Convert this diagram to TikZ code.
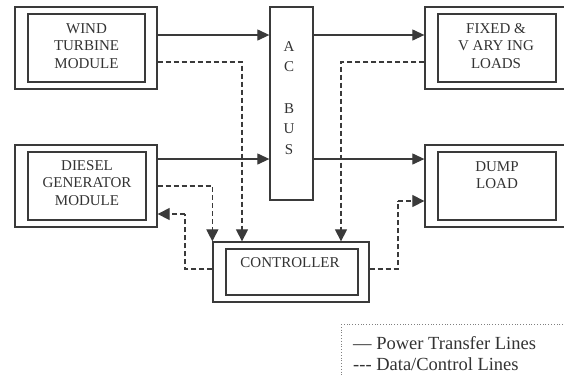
\documentclass[tikz,border=0pt]{standalone}
\usepackage{fontspec}
\setmainfont{Liberation Serif}
\usetikzlibrary{arrows.meta}
\definecolor{ln}{HTML}{3A3A3A}
\definecolor{tx}{HTML}{333333}
\begin{document}
\begin{tikzpicture}[x=1pt,y=-1pt,
  outer/.style={draw=ln,line width=1.3pt,inner sep=0pt,fill=white},
  innerbox/.style={draw=ln,line width=1.3pt,inner sep=0pt},
  lbl/.style={text=tx,font=\fontsize{15}{17.5}\selectfont,align=center,inner sep=0pt},
  pow/.style={draw=ln,line width=1.2pt,-{Triangle[length=12pt,width=11pt]}},
  dat/.style={draw=ln,line width=1.2pt,dash pattern=on 5pt off 3pt,-{Triangle[length=12pt,width=12pt]}},
  dat0/.style={draw=ln,line width=1.2pt,dash pattern=on 5pt off 3pt}]
\useasboundingbox (0,0) rectangle (564,376);
\clip (0,0) rectangle (564,376);
\fill[white] (0,0) rectangle (564,376);
% wind turbine
\node[outer,minimum width=142pt,minimum height=82pt] (wind) at (86,48) {};
\node[innerbox,minimum width=117pt,minimum height=68pt] (windin) at (86.5,48) {};
\node[lbl] (windt) at (86.5,46) {WIND\\TURBINE\\MODULE};
% diesel
\node[outer,minimum width=142pt,minimum height=82pt] (dsl) at (86,186) {};
\node[innerbox,minimum width=118pt,minimum height=68pt] (dslin) at (87,186) {};
\node[lbl] (dslt) at (87,183) {DIESEL\\GENERATOR\\MODULE};
% AC bus
\node[outer,minimum width=43pt,minimum height=193pt] (bus) at (291.5,103.5) {};
\node[lbl,font=\fontsize{15}{20.6}\selectfont] (bust) at (289,98) {A\\C\\[20.6pt]B\\U\\S};
% fixed loads
\node[outer,minimum width=144pt,minimum height=82pt] (fix) at (497,48) {};
\node[innerbox,minimum width=118pt,minimum height=68pt] (fixin) at (497,48) {};
\node[lbl] (fixt) at (496,46) {FIXED \&\\V ARY ING\\LOADS};
% dump load
\node[outer,minimum width=144pt,minimum height=82pt] (dump) at (497,186) {};
\node[innerbox,minimum width=118pt,minimum height=68pt] (dumpin) at (497,186) {};
\node[lbl] (dumpt) at (497,175) {DUMP\\LOAD};
% controller
\node[outer,minimum width=156pt,minimum height=60pt] (ctrl) at (291,272) {};
\node[innerbox,minimum width=132pt,minimum height=46pt] (ctrlin) at (292,272) {};
\node[lbl] (ctrlt) at (290,263) {CONTROLLER};
% power lines
\draw[pow] (wind.east |- 0,35) -- (bus.west |- 0,35);
\draw[pow] (dsl.east |- 0,159) -- (bus.west |- 0,159);
\draw[pow] (bus.east |- 0,35) -- (fix.west |- 0,35);
\draw[pow] (bus.east |- 0,159) -- (dump.west |- 0,159);
% data lines
\draw[dat] (wind.east |- 0,62) -| (ctrl.north -| 242,0);
\draw[dat] (dsl.east |- 0,186) -| (ctrl.north west);
\draw[dat] (fix.west |- 0,62) -| (ctrl.north -| 341,0);
\draw[dat0] (ctrl.west |- 0,269) -| (185,214) coordinate (c1);
\draw[dat] (c1) -- (dsl.east |- c1);
\draw[dat0] (ctrl.east |- 0,269) -| (398,201) coordinate (c2);
\draw[dat] (c2) -- (dump.west |- c2);
% legend
\draw[gray,line width=0.8pt,dotted] (341,324) rectangle (600,400);
\node[text=tx,font=\fontsize{18.5}{21}\selectfont,anchor=west,inner sep=0pt] (lg1) at (353,343) {— Power Transfer Lines};
\node[text=tx,font=\fontsize{18.5}{21}\selectfont,anchor=west,inner sep=0pt] (lg2) at (353,364) {-{}-{}- Data/Control Lines};
\end{tikzpicture}
\end{document}
